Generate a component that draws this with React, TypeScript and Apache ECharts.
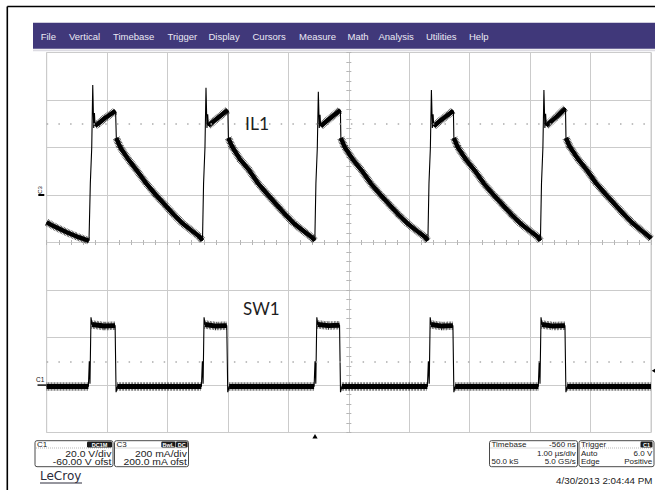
import React, { useEffect, useRef } from "react";
import * as echarts from "echarts";

// ---------------- data ----------------
// screen time in µs (1.00 µs/div, 10 div), IL1 = C3 in mA (200 mA/div), SW1 = C1 in V (20 V/div)
const timeRangeUs = [0, 10];
const il1RangeMa = [-1000, 600];
const sw1RangeV = [-20, 140];
const il1MaPerDiv = 200;
const sw1VPerDiv = 20;
const triggerTimeUs = 4.44;
const triggerLevelV = 6.0;
const il1DottedMa = 300;
const sw1DottedV = 10;

const il1LeadIn: [number, number][] = [
  [0.0, -115], [0.12, -132], [0.33, -157], [0.5, -175], [0.61, -185], [0.7, -193],
];
const il1Pulse1: [number, number][] = [
  [0.722, 50], [0.745, 198], [0.762, 463], [0.778, 282], [0.79, 345], [0.8, 292], [0.85, 300], [0.965, 324], [1.14, 354],
  [1.152, 240], [1.214, 202], [1.35, 150], [1.49, 104], [1.65, 48], [1.8, 2], [1.95, -40], [2.1, -82], [2.25, -120], [2.4, -150], [2.53, -176], [2.578, -192],
];
const il1Pulse2: [number, number][] = [
  [2.596, 50], [2.619, 200], [2.636, 452], [2.652, 282], [2.664, 340], [2.675, 292], [2.72, 302], [2.84, 326], [2.998, 358],
  [3.007, 240], [3.07, 203], [3.2, 150], [3.345, 106], [3.5, 48], [3.655, 2], [3.8, -40], [3.955, -84], [4.1, -122], [4.25, -152], [4.385, -178], [4.437, -192],
];
const il1Pulse3: [number, number][] = [
  [4.455, 50], [4.478, 198], [4.495, 435], [4.511, 282], [4.523, 338], [4.534, 290], [4.58, 300], [4.7, 325], [4.86, 358],
  [4.868, 240], [4.93, 202], [5.065, 150], [5.21, 104], [5.365, 48], [5.52, 2], [5.67, -40], [5.82, -82], [5.97, -120], [6.12, -150], [6.255, -176], [6.308, -192],
];
const il1Pulse4: [number, number][] = [
  [6.326, 50], [6.349, 198], [6.366, 442], [6.382, 282], [6.394, 340], [6.405, 290], [6.45, 300], [6.57, 324], [6.73, 355],
  [6.738, 240], [6.8, 202], [6.935, 150], [7.08, 104], [7.235, 48], [7.39, 2], [7.54, -40], [7.69, -82], [7.84, -120], [7.99, -150], [8.125, -176], [8.17, -192],
];
const il1Pulse5: [number, number][] = [
  [8.188, 50], [8.211, 198], [8.228, 442], [8.244, 282], [8.256, 342], [8.267, 292], [8.31, 302], [8.43, 328], [8.585, 365],
  [8.593, 240], [8.655, 204], [8.79, 152], [8.935, 106], [9.09, 50], [9.245, 4], [9.395, -38], [9.545, -80], [9.695, -118], [9.845, -150], [9.97, -176], [10.0, -184],
];

const sw1LeadIn: [number, number][] = [[0.0, -0.6]];
const sw1Pulse1: [number, number][] = [
  [0.69, -0.6], [0.705, 10], [0.716, 0.5], [0.733, 28.5], [0.75, 25.5], [0.95, 24.8], [1.132, 25], [1.148, -3], [1.17, -0.6],
];
const sw1Pulse2: [number, number][] = [
  [2.56, -0.6], [2.576, 10], [2.588, 0.5], [2.604, 28.5], [2.62, 25.5], [2.8, 24.8], [2.98, 25], [2.996, -3], [3.02, -0.6],
];
const sw1Pulse3: [number, number][] = [
  [4.425, -0.6], [4.44, 10], [4.453, 0.5], [4.47, 28.5], [4.486, 25.5], [4.66, 25], [4.846, 25.2], [4.862, -3], [4.885, -0.6],
];
const sw1Pulse4: [number, number][] = [
  [6.3, -0.6], [6.316, 10], [6.33, 0.5], [6.346, 28.5], [6.362, 25.5], [6.54, 24.8], [6.722, 25], [6.738, -3], [6.76, -0.6],
];
const sw1Pulse5: [number, number][] = [
  [8.135, -0.6], [8.15, 10], [8.163, 0.5], [8.18, 28.5], [8.196, 25.5], [8.38, 24.8], [8.576, 25], [8.592, -3], [8.615, -0.6],
];
const sw1TailOut: [number, number][] = [[10.0, -0.6]];

const menuItems = ["File", "Vertical", "Timebase", "Trigger", "Display", "Cursors", "Measure", "Math", "Analysis", "Utilities", "Help"];
const c1BoxLines = ["20.0 V/div", "-60.00 V ofst"];
const c3BoxLines = ["200 mA/div", "200.0 mA ofst"];
const timebaseLeft = ["Timebase", "", "50.0 kS"];
const timebaseRight = ["-560 ns", "1.00 µs/div", "5.0 GS/s"];
const triggerLeft = ["Trigger", "Auto", "Edge"];
const triggerRight = ["", "6.0 V", "Positive"];
const dateText = "4/30/2013 2:04:44 PM";

// ---------------- layout (not data) ----------------
const G_LEFT = 46.7;
const G_TOP = 52.5;
const G_W = 604.3;
const G_H = 380;
const menuX = [40.7, 69, 113, 167.5, 208.5, 252.5, 299, 347.5, 378.5, 426, 469];
const GRID_COLOR = "#cbcbcb";
const TICK_COLOR = "#b4b4b4";
const SANS = '"Liberation Sans", Arial, sans-serif';

const il1Trace = [...il1LeadIn, ...il1Pulse1, ...il1Pulse2, ...il1Pulse3, ...il1Pulse4, ...il1Pulse5];
const sw1Trace = [...sw1LeadIn, ...sw1Pulse1, ...sw1Pulse2, ...sw1Pulse3, ...sw1Pulse4, ...sw1Pulse5, ...sw1TailOut];

// The noisy (thick) parts of a trace: same points, broken where the trace is a steep edge.
function noiseBand(points: [number, number][], unitsPerDiv: number) {
  const pxX = G_W / 10;
  const pxY = G_H / 8;
  const out: any[] = [];
  for (let i = 0; i < points.length; i++) {
    if (i > 0) {
      const dx = (points[i][0] - points[i - 1][0]) * pxX;
      const dy = ((points[i][1] - points[i - 1][1]) / unitsPerDiv) * pxY;
      if (Math.abs(dy) > 2.5 * Math.abs(dx)) out.push([points[i][0], "-"]);
    }
    out.push(points[i]);
  }
  return out;
}

function centerTickX(inside: boolean) {
  return {
    type: "value", min: timeRangeUs[0], max: timeRangeUs[1], interval: 1,
    position: "bottom", offset: -G_H / 2,
    axisLine: { show: false }, axisLabel: { show: false }, splitLine: { show: false },
    axisTick: { show: true, inside, length: 2.5, lineStyle: { color: TICK_COLOR, width: 1 } },
    minorTick: { show: true, splitNumber: 5, length: 2.5, lineStyle: { color: TICK_COLOR, width: 1 } },
  };
}
function centerTickY(inside: boolean) {
  return {
    type: "value", min: -4, max: 4, interval: 1,
    position: "left", offset: -G_W / 2,
    axisLine: { show: false }, axisLabel: { show: false }, splitLine: { show: false },
    axisTick: { show: true, inside, length: 2.5, lineStyle: { color: TICK_COLOR, width: 1 } },
    minorTick: { show: true, splitNumber: 5, length: 2.5, lineStyle: { color: TICK_COLOR, width: 1 } },
  };
}

function txt(x: number, y: number, text: string, font: string, fill: string, align = "left", extra: any = {}) {
  return {
    type: "text", x, y, silent: true, z: 20, ...extra,
    style: { text, font, fill, textAlign: align, align, textVerticalAlign: "middle", verticalAlign: "middle" },
  };
}

function badge(x: number, w: number, label: string) {
  return [
    { type: "rect", silent: true, z: 21, shape: { x, y: 441.6, width: w, height: 5.8, r: 1.2 }, style: { fill: "#1b1b1b" } },
    txt(x + w / 2, 444.6, label, 'bold 5.5px "Liberation Sans", Arial', "#ffffff", "center", { z: 22 }),
  ];
}

function infoBox(x: number, w: number) {
  return [
    { type: "rect", silent: true, z: 19, shape: { x, y: 440.7, width: w, height: 26, r: 2 }, style: { fill: "#ffffff", stroke: "#4a4a4a", lineWidth: 1 } },
    { type: "line", silent: true, z: 20, shape: { x1: x + 1, y1: 448, x2: x + w - 1, y2: 448 }, style: { stroke: "#8a8a8a", lineWidth: 0.6, lineDash: [1, 1] } },
  ];
}

export default function App() {
  const ref = useRef<HTMLDivElement>(null);

  useEffect(() => {
    if (!ref.current) return;
    const chart = echarts.init(ref.current, undefined, { renderer: "svg" });

    const dotted = (value: number) => ({
      silent: true, symbol: ["none", "none"], label: { show: false },
      lineStyle: { color: "#acacac", width: 1.5, type: [1.5, 10.2] },
      data: [{ yAxis: value }],
    });

    const il1Band = noiseBand(il1Trace, il1MaPerDiv);
    const sw1Band = noiseBand(sw1Trace, sw1VPerDiv);

    const line = (name: string, yAxisIndex: number, data: any[], lineStyle: any, z: number, extra: any = {}) => ({
      type: "line", name, xAxisIndex: 0, yAxisIndex, data, symbol: "none", silent: true, z, lineStyle, ...extra,
    });

    const option: any = {
      animation: false,
      backgroundColor: "#ffffff",
      grid: {
        left: G_LEFT, top: G_TOP, width: G_W, height: G_H, show: true,
        borderColor: GRID_COLOR, borderWidth: 1, backgroundColor: "#ffffff",
        outerBoundsMode: "none", containLabel: false,
      },
      xAxis: [
        {
          type: "value", min: timeRangeUs[0], max: timeRangeUs[1], interval: 1,
          axisLine: { show: false }, axisTick: { show: false }, axisLabel: { show: false },
          splitLine: { show: true, lineStyle: { color: GRID_COLOR, width: 1 } },
        },
        centerTickX(false),
        centerTickX(true),
      ],
      yAxis: [
        {
          type: "value", min: il1RangeMa[0], max: il1RangeMa[1], interval: il1MaPerDiv,
          axisLine: { show: false }, axisTick: { show: false }, axisLabel: { show: false },
          splitLine: { show: true, lineStyle: { color: GRID_COLOR, width: 1 } },
        },
        {
          type: "value", min: sw1RangeV[0], max: sw1RangeV[1], interval: sw1VPerDiv, position: "right",
          axisLine: { show: false }, axisTick: { show: false }, axisLabel: { show: false }, splitLine: { show: false },
        },
        centerTickY(false),
        centerTickY(true),
      ],
      series: [
        line("IL1", 0, il1Trace, { color: "#000", width: 1.1 }, 3, { markLine: dotted(il1DottedMa) }),
        line("IL1 noise", 0, il1Band, { color: "#000", width: 4.4, join: "round" }, 4),
        line("IL1 noise fringe", 0, il1Band, { color: "#000", width: 7.5, type: [0.6, 0.9], opacity: 0.85 }, 4),
        line("SW1", 1, sw1Trace, { color: "#000", width: 1.1 }, 3, { markLine: dotted(sw1DottedV) }),
        line("SW1 noise", 1, sw1Band, { color: "#000", width: 5, join: "round" }, 4),
        line("SW1 noise fringe", 1, sw1Band, { color: "#000", width: 8.5, type: [0.6, 0.9], opacity: 0.85 }, 4),
      ],
    };
    chart.setOption(option);

    const c3Y = chart.convertToPixel({ yAxisIndex: 0 }, 0) as number;
    const c1Y = chart.convertToPixel({ yAxisIndex: 1 }, 0) as number;
    const lvlY = chart.convertToPixel({ yAxisIndex: 1 }, triggerLevelV) as number;
    const trigX = chart.convertToPixel({ xAxisIndex: 0 }, triggerTimeUs) as number;
    const gridBottom = G_TOP + G_H;
    const gridRight = G_LEFT + G_W;

    const boxFont = `8px ${SANS}`;
    const wideFont = `9.4px ${SANS}`;
    const wide = { scaleX: 1.1 };
    const g: any[] = [];
    // outer frame
    g.push({ type: "line", silent: true, shape: { x1: 7.3, y1: 6.5, x2: 655, y2: 6.5 }, style: { stroke: "#000", lineWidth: 1.6 } });
    g.push({ type: "line", silent: true, shape: { x1: 7.3, y1: 6.5, x2: 7.3, y2: 490 }, style: { stroke: "#000", lineWidth: 1.6 } });
    // menu bar
    g.push({ type: "rect", silent: true, shape: { x: 33, y: 22.8, width: 622, height: 26 }, style: { fill: "#40387a" } });
    g.push({ type: "line", silent: true, shape: { x1: 33, y1: 50.4, x2: 655, y2: 50.4 }, style: { stroke: "#dcdbe2", lineWidth: 1.6 } });
    menuItems.forEach((m, i) => g.push(txt(menuX[i], 36, m, `9.5px ${SANS}`, "#ebe9f4")));
    // channel ground markers
    g.push(txt(39.8, c3Y - 5, "C3", `6px ${SANS}`, "#111", "center", { rotation: Math.PI / 2 }));
    g.push({ type: "rect", silent: true, shape: { x: 38.3, y: c3Y - 1, width: 6, height: 2 }, style: { fill: "#000" } });
    g.push(txt(36, c1Y - 6, "C1", `6.5px ${SANS}`, "#111"));
    g.push({ type: "rect", silent: true, shape: { x: 37.5, y: c1Y - 0.6, width: 9, height: 1.4 }, style: { fill: "#000" } });
    // trigger markers
    g.push({ type: "polygon", silent: true, shape: { points: [[trigX - 2.6, gridBottom + 6], [trigX + 2.6, gridBottom + 6], [trigX, gridBottom + 1.6]] }, style: { fill: "#000" } });
    g.push({ type: "polygon", silent: true, shape: { points: [[gridRight + 0.8, lvlY], [gridRight + 4.8, lvlY - 2.6], [gridRight + 4.8, lvlY + 2.6]] }, style: { fill: "#000" } });
    // trace labels
    g.push(txt(245, 123, "IL1", `17.5px Lato, "Open Sans", sans-serif`, "#1e1e1e"));
    g.push(txt(243, 308, "SW1", `17px Lato, "Open Sans", sans-serif`, "#1e1e1e"));
    // C1 box
    g.push(...infoBox(35, 78));
    g.push(txt(37, 444.6, "C1", boxFont, "#222"));
    g.push(...badge(87, 25, "DC1M"));
    g.push(txt(111.3, 453.3, c1BoxLines[0], wideFont, "#222", "right", wide));
    g.push(txt(111.3, 461.8, c1BoxLines[1], wideFont, "#222", "right", wide));
    // C3 box
    g.push(...infoBox(114.5, 74));
    g.push(txt(116.5, 444.6, "C3", boxFont, "#222"));
    g.push(...badge(161.3, 14.2, "BwL"));
    g.push(...badge(176, 11.6, "DC"));
    g.push(txt(186.8, 453.3, c3BoxLines[0], wideFont, "#222", "right", wide));
    g.push(txt(186.8, 461.8, c3BoxLines[1], wideFont, "#222", "right", wide));
    // Timebase box
    g.push(...infoBox(489.5, 88));
    [444.6, 453.3, 461.8].forEach((y, i) => {
      if (timebaseLeft[i]) g.push(txt(491.5, y, timebaseLeft[i], boxFont, "#222"));
      if (timebaseRight[i]) g.push(txt(575.8, y, timebaseRight[i], boxFont, "#222", "right"));
    });
    // Trigger box
    g.push(...infoBox(579, 75));
    [444.6, 453.3, 461.8].forEach((y, i) => {
      if (triggerLeft[i]) g.push(txt(581, y, triggerLeft[i], boxFont, "#222"));
      if (triggerRight[i]) g.push(txt(652.3, y, triggerRight[i], boxFont, "#222", "right"));
    });
    g.push(...badge(640.5, 12, "C1"));
    // footer
    g.push(txt(652.5, 480.7, dateText, `9.8px ${SANS}`, "#222", "right"));
    g.push(txt(40, 475.5, "LeCroy", `12px "DejaVu Sans", sans-serif`, "#2c2c3c"));
    g.push({ type: "line", silent: true, shape: { x1: 40, y1: 483, x2: 82, y2: 483 }, style: { stroke: "#2c2c3c", lineWidth: 1 } });

    chart.setOption({ graphic: g });

    return () => chart.dispose();
  }, []);

  return (
    <div
      ref={ref}
      style={{ position: "absolute", left: 0, top: 0, width: 655, height: 490, background: "#ffffff" }}
    />
  );
}
